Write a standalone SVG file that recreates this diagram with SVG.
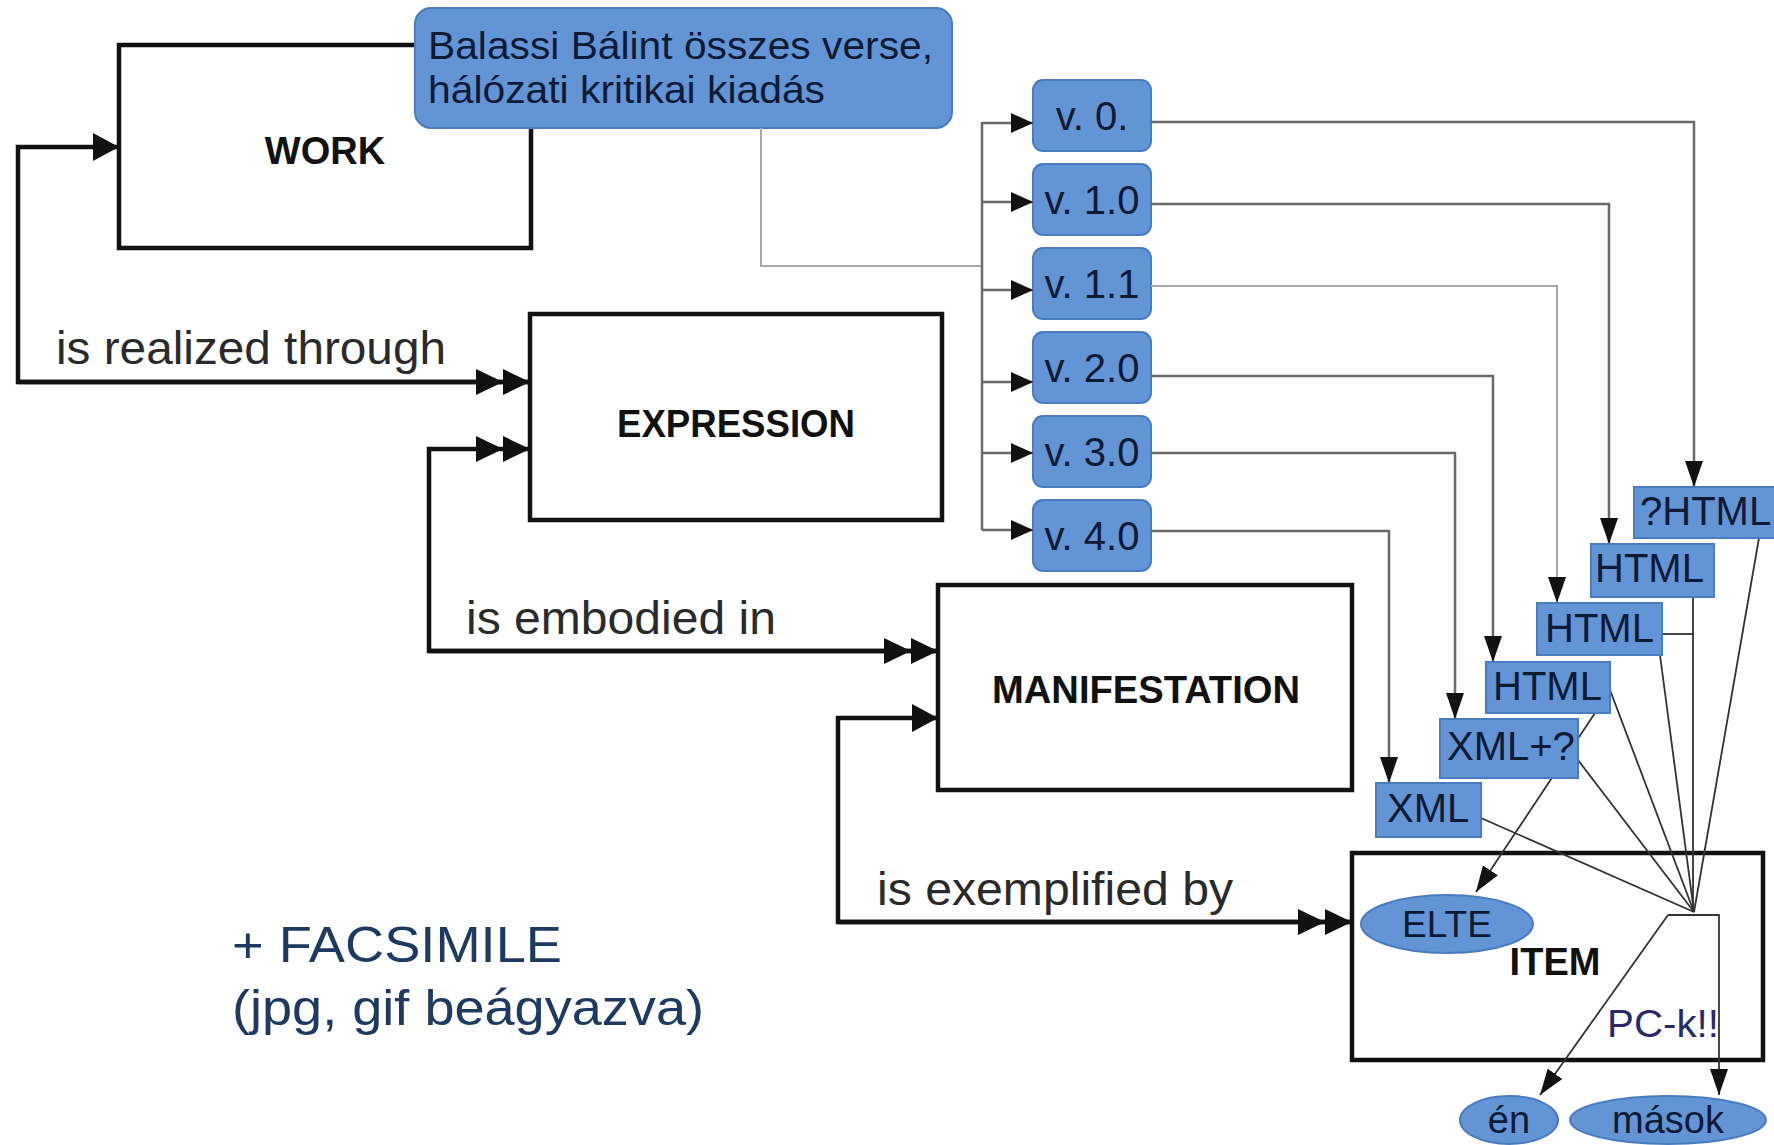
<svg xmlns="http://www.w3.org/2000/svg" width="1774" height="1145" viewBox="0 0 1774 1145">
<style>
text{font-family:"Liberation Sans",Arial,sans-serif}
.box{fill:#fff;stroke:#111;stroke-width:4.5}
.title{font-weight:bold;font-size:38px;fill:#111;text-anchor:middle}
.lbl{font-size:46px;fill:#2a2a2a}
.blue{fill:#6294d6;stroke:#4a7cc0;stroke-width:2}
.ver{font-size:40px;fill:#0f1a35;text-anchor:middle}
.out{font-size:40px;fill:#0f1a35}
.thick{fill:none;stroke:#111;stroke-width:4.5}
.gline{fill:none;stroke:#6a6a6a;stroke-width:2.5}
.lgline{fill:none;stroke:#a8a8a8;stroke-width:2}
.thin{fill:none;stroke:#333;stroke-width:1.8}
.note{font-size:50px;fill:#1f3a60}
</style>
<defs>
<marker id="dbl" markerUnits="userSpaceOnUse" viewBox="0 0 54 26" refX="54" refY="13" markerWidth="54" markerHeight="26" orient="auto"><path d="M0,0L27,13L0,26zM27,0L54,13L27,26z" fill="#111"/></marker>
<marker id="sgl" markerUnits="userSpaceOnUse" viewBox="0 0 26 28" refX="26" refY="14" markerWidth="26" markerHeight="28" orient="auto"><path d="M0,0L26,14L0,28z" fill="#111"/></marker>
<marker id="sm" markerUnits="userSpaceOnUse" viewBox="0 0 22 20" refX="22" refY="10" markerWidth="22" markerHeight="20" orient="auto"><path d="M0,0L22,10L0,20z" fill="#111"/></marker>
<marker id="dn" markerUnits="userSpaceOnUse" viewBox="0 0 26 18" refX="26" refY="9" markerWidth="26" markerHeight="18" orient="auto"><path d="M0,0L26,9L0,18z" fill="#111"/></marker>
</defs>
<rect width="1774" height="1145" fill="#fff"/>

<g id="work"><rect class="box" x="119" y="45" width="412" height="203"/><text class="title" x="325" y="164">WORK</text></g>
<g id="expression"><rect class="box" x="530" y="314" width="412" height="206"/><text class="title" x="736" y="437" textLength="238" lengthAdjust="spacingAndGlyphs">EXPRESSION</text></g>
<g id="manifestation"><rect class="box" x="938" y="585" width="414" height="205"/><text class="title" x="1146" y="703" textLength="308" lengthAdjust="spacingAndGlyphs">MANIFESTATION</text></g>
<g id="item"><rect class="box" x="1352" y="853" width="411" height="207"/><text class="title" x="1555" y="975">ITEM</text><text x="1607" y="1037" font-size="38" fill="#2a2a6a" textLength="112" lengthAdjust="spacingAndGlyphs">PC-k!!</text></g>

<g id="balassi"><rect x="415" y="8" width="537" height="120" rx="16" fill="#6294d6" stroke="#4a7cc0" stroke-width="2"/><text x="428" y="59" font-size="38" fill="#0f1a35" textLength="505" lengthAdjust="spacingAndGlyphs">Balassi Bálint összes verse,</text><text x="428" y="103" font-size="38" fill="#0f1a35" textLength="397" lengthAdjust="spacingAndGlyphs">hálózati kritikai kiadás</text></g>

<g id="v0"><rect class="blue" x="1033" y="80" width="118" height="71" rx="10"/><text class="ver" x="1092" y="130">v. 0.</text></g>
<g id="v10"><rect class="blue" x="1033" y="164" width="118" height="71" rx="10"/><text class="ver" x="1092" y="214">v. 1.0</text></g>
<g id="v11"><rect class="blue" x="1033" y="248" width="118" height="71" rx="10"/><text class="ver" x="1092" y="298">v. 1.1</text></g>
<g id="v20"><rect class="blue" x="1033" y="332" width="118" height="71" rx="10"/><text class="ver" x="1092" y="382">v. 2.0</text></g>
<g id="v30"><rect class="blue" x="1033" y="416" width="118" height="71" rx="10"/><text class="ver" x="1092" y="466">v. 3.0</text></g>
<g id="v40"><rect class="blue" x="1033" y="500" width="118" height="71" rx="10"/><text class="ver" x="1092" y="550">v. 4.0</text></g>

<g id="connectors">
<path class="thick" d="M530,382H18V147H119" marker-end="url(#sgl)"/>
<path class="thick" d="M18,382H530" marker-end="url(#dbl)"/>
<path class="thick" d="M938,651H429V449H530" marker-end="url(#dbl)"/>
<path class="thick" d="M429,651H938" marker-end="url(#dbl)"/>
<path class="thick" d="M1352,922H838V718H938" marker-end="url(#sgl)"/>
<path class="thick" d="M838,922H1352" marker-end="url(#dbl)"/>

<path class="lgline" d="M761,128V266H982"/>
<path class="gline" d="M982,122V530"/>
<path class="gline" d="M982,123H1033" marker-end="url(#sm)"/>
<path class="gline" d="M982,202H1033" marker-end="url(#sm)"/>
<path class="gline" d="M982,290H1033" marker-end="url(#sm)"/>
<path class="gline" d="M982,382H1033" marker-end="url(#sm)"/>
<path class="gline" d="M982,453H1033" marker-end="url(#sm)"/>
<path class="gline" d="M982,530H1033" marker-end="url(#sm)"/>

<path class="gline" d="M1151,122H1694V487" marker-end="url(#dn)"/>
<path class="gline" d="M1151,204H1609V544" marker-end="url(#dn)"/>
<path class="lgline" d="M1151,286H1557V603" marker-end="url(#dn)"/>
<path class="gline" d="M1151,376H1493V662" marker-end="url(#dn)"/>
<path class="gline" d="M1151,453H1455V719" marker-end="url(#dn)"/>
<path class="gline" d="M1151,531H1389V783" marker-end="url(#dn)"/>

<path class="thin" d="M1759,538L1694,912"/>
<path class="thin" d="M1693,597V912"/>
<path class="thin" d="M1662,634H1693"/>
<path class="thin" d="M1660,655L1694,912"/>
<path class="thin" d="M1610,690L1694,912"/>
<path class="thin" d="M1578,760L1694,912"/>
<path class="thin" d="M1481,818L1694,912"/>
<path class="thin" d="M1595,713L1476,892" marker-end="url(#dn)"/>
<path class="thin" d="M1668,915L1540,1095" marker-end="url(#dn)"/>
<path class="thin" d="M1668,915H1719V1095" marker-end="url(#dn)"/>
</g>

<g id="qhtml"><rect class="blue" x="1634" y="487" width="142" height="51"/><text class="out" x="1640" y="525">?HTML</text></g>
<g id="html1"><rect class="blue" x="1591" y="544" width="123" height="53"/><text class="out" x="1595" y="582">HTML</text></g>
<g id="html2"><rect class="blue" x="1537" y="603" width="125" height="52"/><text class="out" x="1545" y="642">HTML</text></g>
<g id="html3"><rect class="blue" x="1486" y="662" width="124" height="51"/><text class="out" x="1493" y="700">HTML</text></g>
<g id="xmlq"><rect class="blue" x="1440" y="719" width="138" height="59"/><text class="out" x="1447" y="760">XML+?</text></g>
<g id="xml"><rect class="blue" x="1376" y="783" width="105" height="54"/><text class="out" x="1387" y="822">XML</text></g>

<g id="elte"><ellipse class="blue" cx="1447" cy="924" rx="86" ry="29"/><text x="1447" y="937" font-size="37" fill="#0f1a35" text-anchor="middle">ELTE</text></g>
<g id="en"><ellipse class="blue" cx="1509" cy="1120" rx="49" ry="24"/><text x="1509" y="1133" font-size="38" fill="#0f1a35" text-anchor="middle">én</text></g>
<g id="masok"><ellipse class="blue" cx="1668" cy="1120" rx="98" ry="24"/><text x="1668" y="1133" font-size="38" fill="#0f1a35" text-anchor="middle">mások</text></g>

<text class="lbl" x="56" y="364" textLength="390" lengthAdjust="spacingAndGlyphs">is realized through</text>
<text class="lbl" x="466" y="634" textLength="310" lengthAdjust="spacingAndGlyphs">is embodied in</text>
<text class="lbl" x="877" y="905" textLength="356" lengthAdjust="spacingAndGlyphs">is exemplified by</text>
<text class="note" x="232" y="962" textLength="330" lengthAdjust="spacingAndGlyphs">+ FACSIMILE</text>
<text class="note" x="232" y="1025" textLength="472" lengthAdjust="spacingAndGlyphs">(jpg, gif beágyazva)</text>
</svg>
